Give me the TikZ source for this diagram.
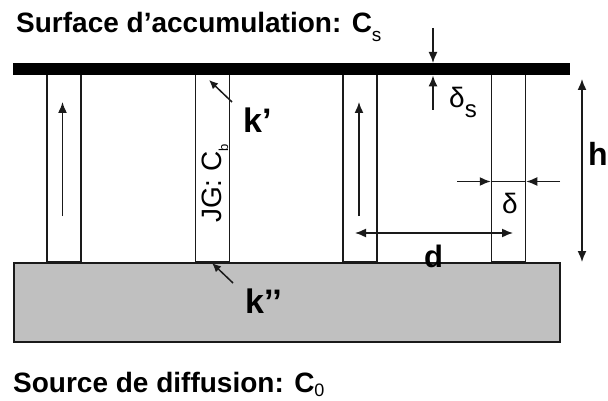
\documentclass[tikz,border=0pt]{standalone}
\usepackage{fontspec}
\setmainfont{Liberation Sans}
\usetikzlibrary{positioning, arrows.meta}
\definecolor{SubGray}{HTML}{C0C0C0}
\definecolor{LineK}{HTML}{1A1A1A}
\tikzset{
  wall/.style={draw=LineK, line width=1.5pt, minimum width=34pt, minimum height=188pt, inner sep=0pt},
  film/.style={fill=black, inner sep=0pt, minimum width=557pt, minimum height=12pt, anchor=north west},
  sub/.style={draw=LineK, fill=SubGray, line width=1.5pt, inner sep=0pt, minimum width=546pt, minimum height=79pt, anchor=north west},
  arr/.style={-{Latex[length=11pt,width=9pt]}, line width=1.5pt, draw=LineK},
  sarr/.style={-{Latex[length=9pt,width=8pt]}, line width=1.5pt, draw=LineK},
  dbl/.style={{Latex[length=11pt,width=9pt]}-{Latex[length=11pt,width=9pt]}, line width=1.5pt, draw=LineK},
  txt/.style={inner sep=0pt, anchor=base west},
  big/.style={txt, font=\fontsize{28}{30}\selectfont\bfseries},
  sym/.style={txt, font=\fontsize{34}{36}\selectfont\bfseries},
  greek/.style={txt, font=\fontsize{28}{30}\selectfont}
}

\begin{document}
\begin{tikzpicture}[x=1pt, y=-1pt]
  \useasboundingbox (0,0) rectangle (608,401);
  \node[wall] (col1) at (64,168) {};
  \node[wall] (col2) at (212.5,168) {};
  \node[wall] (col3) at (360,168) {};
  \node[wall] (col4) at (508.5,168) {};
  \node[film] (film) at (13,63) {};
  \node[sub] (sub) at (13,262) {};

  \node[big] (surf) at (16,33) {Surface d’accumulation: C\raisebox{-9pt}{\fontsize{19}{19}\selectfont\mdseries s}};
  \node[big] (src) at (13,392) {Source de diffusion: C\raisebox{-4pt}{\fontsize{18}{18}\selectfont\mdseries 0}};
  \node[txt, rotate=90, font=\fontsize{28}{30}\selectfont] (jg) at (221,223) {JG: C\raisebox{-7pt}{\fontsize{13}{13}\selectfont b}};
  \node[sym] (kp) at (243,133) {k’};
  \node[sym] (kpp) at (245,313) {k’’};
  \node[txt, font=\fontsize{32}{34}\selectfont\bfseries] (hl) at (588,166) {h};
  \node[txt, font=\fontsize{31}{33}\selectfont\bfseries] (dl) at (424,267) {d};
  \node[greek] (del) at (502,213) {δ};
  \node[greek] (dels) at (449,108) {δ\raisebox{-10pt}{\fontsize{24}{24}\selectfont s}};

  \coordinate (f1a) at (62.5,216);
  \coordinate (f1b) at (62.5,102);
  \coordinate (f3a) at (359,216);
  \coordinate (f3b) at (359,102);
  \draw[arr] (f1a) -- (f1b);
  \draw[arr] (f3a) -- (f3b);

  \coordinate (dsa) at (433,28);
  \coordinate (dsb) at (433,110);
  \draw[arr] (dsa) -- (dsa |- film.north);
  \draw[arr] (dsb) -- (dsb |- film.south);

  \coordinate (kpa) at (232,102);
  \coordinate (kpb) at (209,80);
  \draw[sarr] (kpa) -- (kpb);
  \coordinate (kppa) at (233,283);
  \coordinate (kppb) at (212,263);
  \draw[sarr] (kppa) -- (kppb);

  \coordinate (ht) at (582,79);
  \draw[dbl] (ht) -- (ht |- sub.north);

  \coordinate (dla) at (457,181.5);
  \coordinate (dra) at (560,181.5);
  \draw[arr] (dla) -- (dla -| col4.west);
  \draw[arr] (dra) -- (dra -| col4.east);
  \draw[line width=1.5pt, LineK] (dla -| col4.west) -- (dra -| col4.east);

  \coordinate (da) at (355,233);
  \coordinate (db) at (513,233);
  \draw[dbl] (da) -- (db);
\end{tikzpicture}
\end{document}
